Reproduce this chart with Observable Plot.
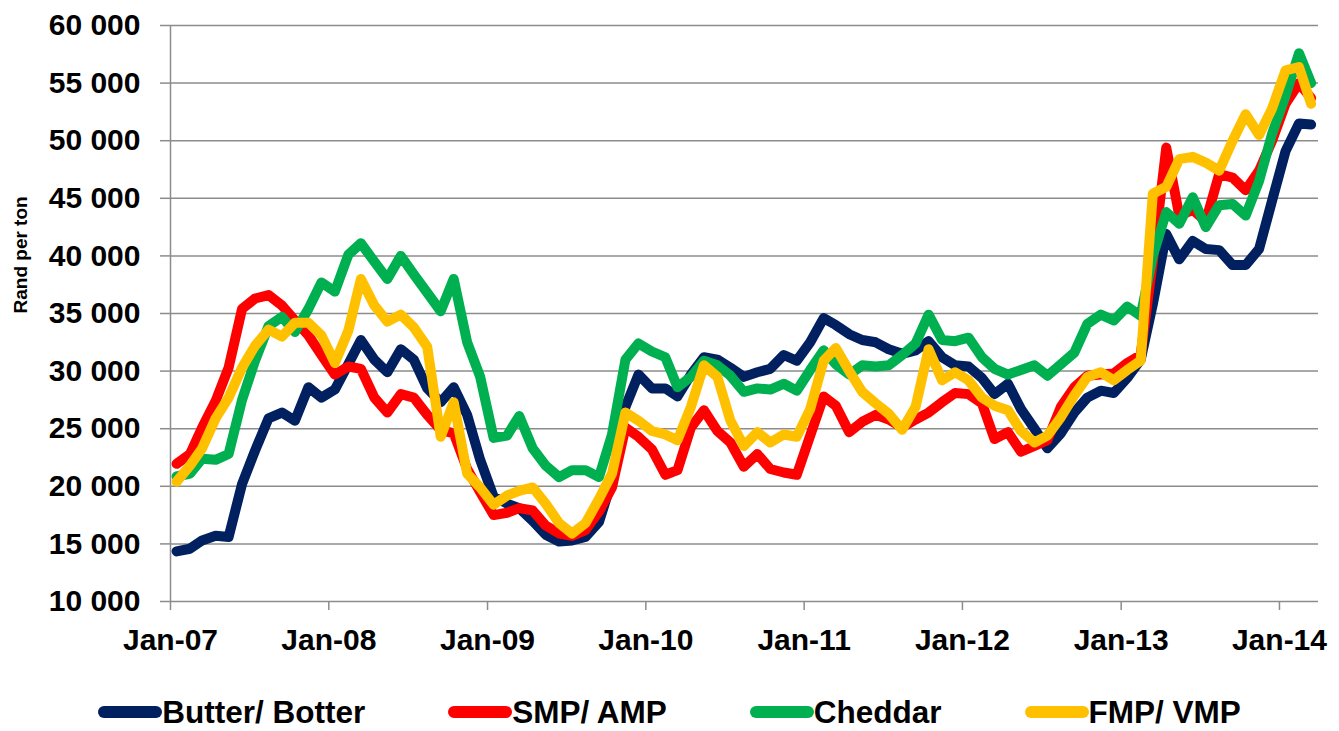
<!DOCTYPE html>
<html>
<head>
<meta charset="utf-8">
<script src="https://cdn.jsdelivr.net/npm/d3@7"></script>
<script src="https://cdn.jsdelivr.net/npm/@observablehq/plot@0.6"></script>
<style>
  html, body { margin: 0; padding: 0; background: #fff; }
  body { width: 1339px; height: 731px; overflow: hidden; font-family: "Liberation Sans", Arial, sans-serif; }
  #legend { display: flex; justify-content: center; align-items: center; gap: 83px; height: 36px; margin-top: 24px; font-size: 31.5px; font-weight: bold; color: #000; line-height: 36px; }
  #legend .item { display: flex; align-items: center; }
  #legend .sw { width: 64px; height: 12px; border-radius: 6px; }
</style>
</head>
<body>
<div id="chart"></div>
<div id="legend"></div>
<script>
// Monthly prices, Jan-07 .. Mar-14 (Rand per ton)
const seriesNames = ["Butter/ Botter", "SMP/ AMP", "Cheddar", "FMP/ VMP"];
const seriesColors = ["#002060", "#FF0000", "#00B050", "#FFC000"];

const butter = [
  14350, 14580, 15300, 15700, 15600, 20200, 23100, 25900, 26400, 25700, 28600, 27700,
  28400, 30600, 32700, 31000, 29900, 31900, 31000, 28500, 27300, 28600, 26200, 22300,
  19100, 18500, 18100, 17000, 15800, 15200, 15300, 15600, 16900, 20500, 26900, 29700,
  28500, 28500, 27800, 29700, 31200, 31000, 30300, 29500, 29900, 30200, 31400, 30900,
  32500, 34600, 34000, 33200, 32700, 32500, 31900, 31500, 31800, 32600, 31200, 30500,
  30400, 29400, 28000, 28900, 26700, 25000, 23300, 24600, 26400, 27700, 28300, 28100,
  29400, 31000, 35800, 41900, 39700, 41300, 40600, 40500, 39200, 39200, 40600, 44800,
  49100, 51500, 51400
];
const smp = [
  21950, 22800, 25100, 27400, 30300, 35400, 36300, 36600, 35700, 34400, 33100, 31400,
  29700, 30400, 30200, 27700, 26400, 28000, 27700, 26200, 24900, 24600, 21500, 19500,
  17500, 17700, 18100, 17900, 16600, 15900, 15700, 16200, 17800, 19900, 25100, 24300,
  23200, 21000, 21400, 25100, 26600, 24800, 23800, 21700, 22800, 21500, 21200, 21000,
  24400, 27800, 27000, 24700, 25600, 26200, 25800, 25100, 25800, 26400, 27300, 28100,
  28000, 27200, 24100, 24700, 23000, 23500, 24000, 26900, 28600, 29600, 29700, 29800,
  30700, 31400, 39500, 49400, 43500, 44000, 43000, 47100, 46800, 45700, 47400, 50000,
  53200, 55000, 53700
];
const cheddar = [
  20850, 21100, 22400, 22300, 22800, 27500, 30900, 33900, 34700, 33400, 35400, 37700,
  36900, 40100, 41100, 39500, 38000, 40000, 38400, 36800, 35200, 38000, 32500, 29500,
  24200, 24400, 26100, 23300, 21800, 20800, 21400, 21400, 20800, 24500, 31000, 32400,
  31700, 31200, 28600, 29500, 30900, 30500, 29600, 28200, 28500, 28400, 28900, 28300,
  30100, 31800, 30600, 29700, 30500, 30400, 30500, 31400, 32400, 34900, 32700, 32600,
  32900, 31200, 30200, 29700, 30100, 30500, 29600, 30600, 31600, 34100, 34900, 34400,
  35600, 34800, 40000, 43800, 42800, 45100, 42500, 44400, 44500, 43500, 46500, 50600,
  53900, 57600, 55000
];
const fmp = [
  20400, 21800, 23300, 25900, 27700, 30300, 32200, 33600, 33000, 34200, 34200, 33100,
  30700, 33500, 38000, 35700, 34300, 34900, 33800, 32100, 24300, 27300, 21100, 19900,
  18400, 19200, 19600, 19900, 18500, 16800, 15900, 16800, 18900, 21100, 26400, 25700,
  24800, 24500, 24000, 26900, 30500, 29500, 25700, 23500, 24700, 23800, 24500, 24300,
  26700, 30900, 32000, 30000, 28200, 27200, 26300, 24900, 26900, 31900, 29200, 29900,
  29200, 27700, 27000, 26600, 24800, 23800, 24400, 26000, 27900, 29500, 29900, 29200,
  30100, 30900, 45400, 46000, 48400, 48600, 48100, 47400, 50000, 52300, 50500, 52800,
  56100, 56400, 53200
];

const yTicks = [10000, 15000, 20000, 25000, 30000, 35000, 40000, 45000, 50000, 55000, 60000];
const xStart = new Date(Date.UTC(2007, 0, 1));
const xEnd = new Date(Date.UTC(2014, 3, 1));
const xTicks = d3.utcYear.range(xStart, new Date(Date.UTC(2014, 1, 1)));

// one date per observation (mid-month)
const months = d3.utcMonth.range(xStart, xEnd).map(d => d3.utcDay.offset(d, 14));
const allSeries = [butter, smp, cheddar, fmp];
const tables = allSeries.map((vals, i) => vals.map((v, j) => ({date: months[j], value: v, series: seriesNames[i]})));

const loc = d3.formatLocale({decimal: ".", thousands: " ", grouping: [3], currency: ["", ""]});
const yFmt = loc.format(",");
const gray = "#8c8c8c";

const chart = Plot.plot({
  width: 1339,
  height: 670,
  marginTop: 25,
  marginBottom: 69,
  marginLeft: 170,
  marginRight: 21,
  style: {fontFamily: "'Liberation Sans', Arial, sans-serif", fontSize: "30px", fontWeight: "bold", color: "#000", background: "#fff"},
  x: {type: "utc", domain: [xStart, xEnd], label: null},
  y: {domain: [10000, 60000], label: null},
  marks: [
    Plot.gridY(yTicks, {stroke: gray, strokeOpacity: 1, strokeWidth: 1.5}),
    Plot.ruleX([xStart], {y1: 10000, y2: 60000, stroke: gray, strokeWidth: 1.5}),
    Plot.axisY(yTicks, {tickSize: 10, tickPadding: 20, tickFormat: yFmt, stroke: gray, strokeWidth: 1.5, fill: "#000", fontSize: 30, fontWeight: "bold", label: null}),
    Plot.axisX(xTicks, {tickSize: 9, tickPadding: 18, tickFormat: d3.utcFormat("%b-%y"), stroke: gray, strokeWidth: 1.5, fill: "#000", fontSize: 30, fontWeight: "bold", label: null}),
    Plot.text(["Rand per ton"], {frameAnchor: "left", dx: -150, rotate: -90, fontSize: 19, fontWeight: "bold", fill: "#000"}),
    ...tables.map((t, i) => Plot.line(t, {x: "date", y: "value", stroke: seriesColors[i], strokeWidth: 10, strokeLinejoin: "round", strokeLinecap: "round"}))
  ]
});
document.getElementById("chart").appendChild(chart);

const legend = document.getElementById("legend");
seriesNames.forEach((name, i) => {
  const item = document.createElement("div");
  item.className = "item";
  const sw = document.createElement("div");
  sw.className = "sw";
  sw.style.background = seriesColors[i];
  const label = document.createElement("span");
  label.textContent = name;
  item.appendChild(sw);
  item.appendChild(label);
  legend.appendChild(item);
});
</script>
</body>
</html>
